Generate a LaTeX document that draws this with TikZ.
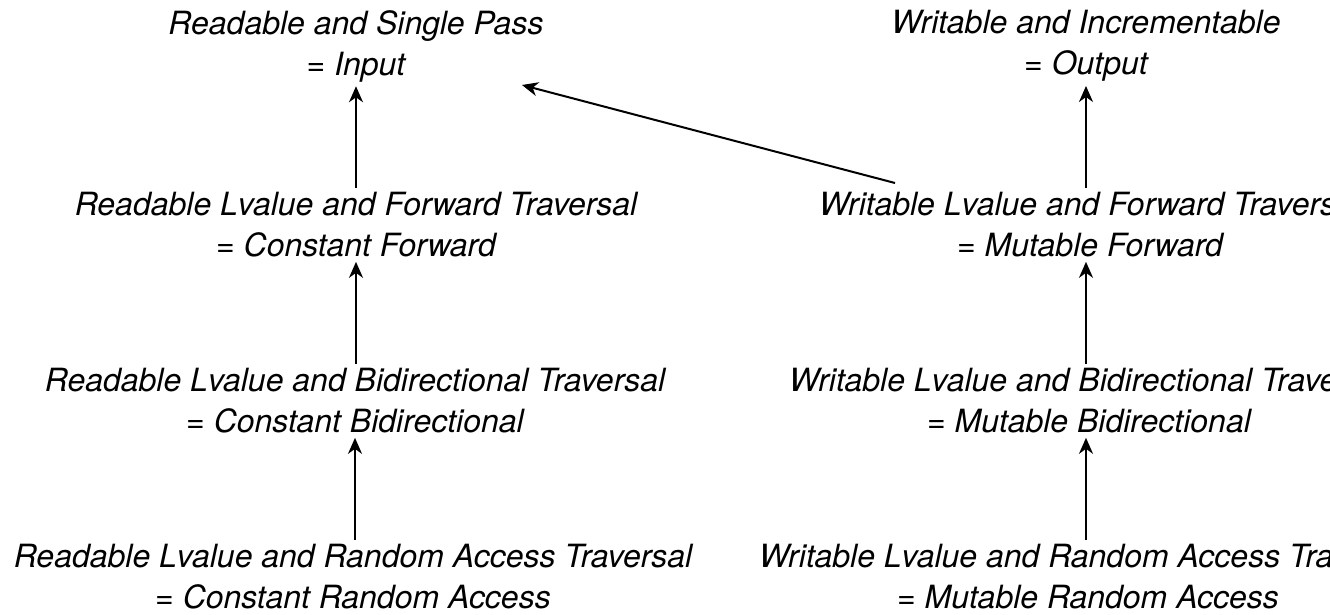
\documentclass[tikz,border=0pt]{standalone}
\usepackage{fontspec}
\setmainfont{TeX Gyre Heros}
\usetikzlibrary{arrows.meta}

\tikzset{
  concept/.style={align=center, inner sep=2pt, font=\itshape\fontsize{16}{20.5}\selectfont},
  refines/.style={-{Stealth[length=8pt,width=7pt,inset=2.5pt]}, line width=1pt}
}

\begin{document}
\begin{tikzpicture}[x=0.5pt,y=-0.5pt]

\useasboundingbox (0,0) rectangle (1330,615);
\clip (0,0) rectangle (1330,615);

%% left column: readable
\node[concept] (input) at (356,46) {Readable and Single Pass\\= Input};
\node[concept] (cfwd)  at (356,225) {Readable Lvalue and Forward Traversal\\= Constant Forward};
\node[concept] (cbid)  at (355,401) {Readable Lvalue and Bidirectional Traversal\\= Constant Bidirectional};
\node[concept] (cran)  at (353,577) {Readable Lvalue and Random Access Traversal\\= Constant Random Access};

%% right column: writable
\node[concept] (output) at (1086,46) {Writable and Incrementable\\= Output};
\node[concept] (mfwd)   at (1090,225) {Writable Lvalue and Forward Traversal\\= Mutable Forward};
\node[concept] (mbid)   at (1089,401) {Writable Lvalue and Bidirectional Traversal\\= Mutable Bidirectional};
\node[concept] (mran)   at (1088,577) {Writable Lvalue and Random Access Traversal\\= Mutable Random Access};

\coordinate (diagfrom) at (895,183);
\coordinate (diagto) at (522,85);

\draw[refines] (cfwd.north -| 356,0) -- (input.south -| 356,0);
\draw[refines] (cbid.north -| 356,0) -- (cfwd.south -| 356,0);
\draw[refines] (cran.north -| 355,0) -- (cbid.south -| 355,0);

\draw[refines] (mfwd.north -| 1086,0) -- (output.south -| 1086,0);
\draw[refines] (mbid.north -| 1086,0) -- (mfwd.south -| 1086,0);
\draw[refines] (mran.north -| 1086,0) -- (mbid.south -| 1086,0);

\draw[refines] (diagfrom) -- (diagto);

\end{tikzpicture}
\end{document}
